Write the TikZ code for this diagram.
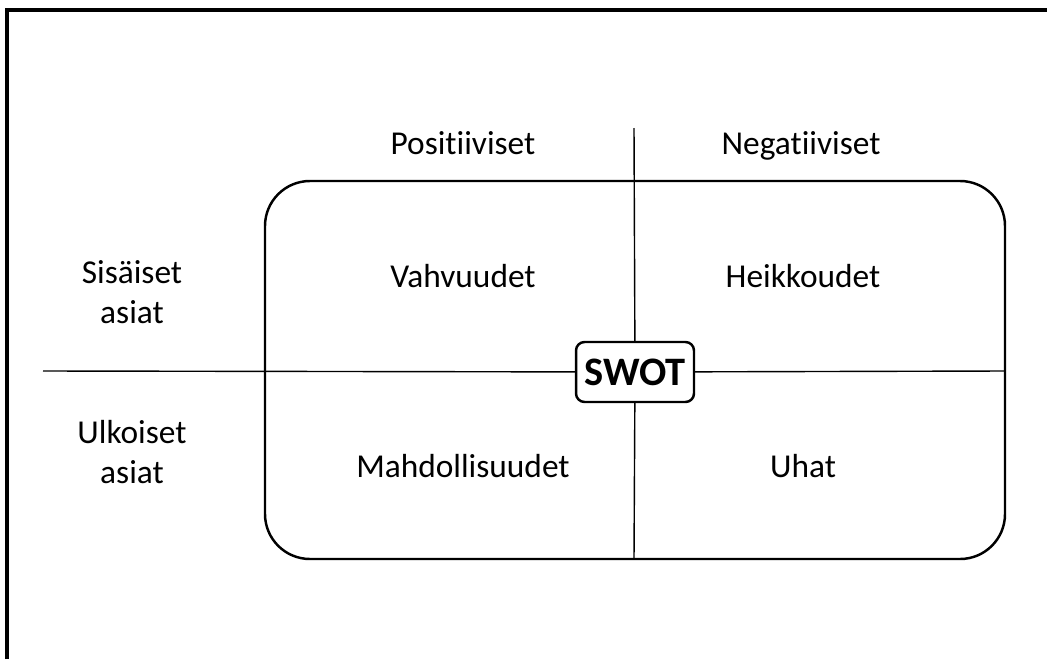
\documentclass[tikz,border=0pt]{standalone}
\usepackage{fontspec}
\setmainfont{Carlito}[Ligatures=NoCommon]
\begin{document}
\begin{tikzpicture}[x=0.02cm,y=-0.02cm,
  label node/.style={font=\fontsize{19}{22.5}\selectfont,align=center,inner sep=0pt},
  swot node/.style={draw,fill=white,line width=1.4pt,rounded corners=0.17cm,
    minimum width=2.36cm,minimum height=1.2cm,inner sep=0pt,
    font=\fontsize{23}{27}\selectfont\bfseries}]

  \useasboundingbox (0,0) rectangle (1047,659);

  % frame and field
  \draw[line width=1.8pt] (7,659) |- (1047,10);
  \draw[line width=1.4pt,rounded corners=0.9cm] (265,181) rectangle (1005,559);

  \coordinate (top) at (634,128);
  \coordinate (bottom) at (634,559);
  \coordinate (left) at (43,371);
  \coordinate (right) at (1005,371);
  \node[swot node] (swot) at (635,372) {SWOT};

  \node[label node,anchor=base] (pos) at (463,154) {Positiiviset};
  \node[label node,anchor=base] (neg) at (801,154) {Negatiiviset};
  \node[label node] (int) at (132,292) {Sisäiset\\asiat};
  \node[label node] (ext) at (132,452) {Ulkoiset\\asiat};
  \node[label node,anchor=base] (s) at (463,287) {Vahvuudet};
  \node[label node,anchor=base] (w) at (803,287) {Heikkoudet};
  \node[label node,anchor=base] (o) at (463,477) {Mahdollisuudet};
  \node[label node,anchor=base] (t) at (803,477) {Uhat};

  \path[line width=0.8pt]
   (top) edge (swot)
   (swot) edge (bottom)
   (left) edge (swot)
   (swot) edge (right);
\end{tikzpicture}
\end{document}
